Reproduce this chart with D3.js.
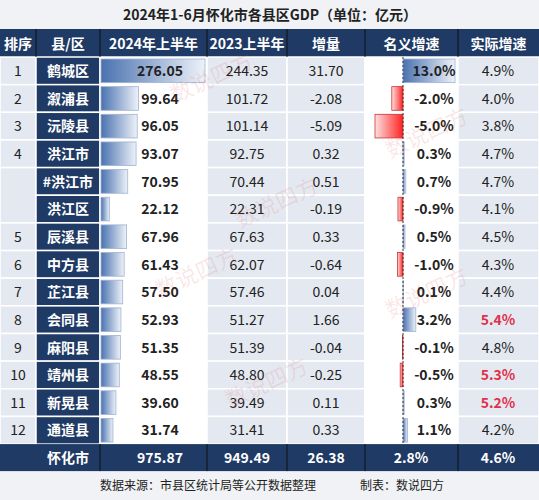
<!DOCTYPE html><html><head><meta charset="utf-8"><script src="https://cdn.jsdelivr.net/npm/d3@7"></script>
<style>body{margin:0;background:#fff}</style></head><body><svg id="c" width="539" height="500"></svg>
<script>
const ranks=["1","2","3","4","","","5","6","7","8","9","10","11","12"];
const names=["鹤城区","溆浦县","沅陵县","洪江市","#洪江市","洪江区","辰溪县","中方县","芷江县","会同县","麻阳县","靖州县","新晃县","通道县"];
const gdp2024=[276.05,99.64,96.05,93.07,70.95,22.12,67.96,61.43,57.50,52.93,51.35,48.55,39.60,31.74];
const gdp2023=[244.35,101.72,101.14,92.75,70.44,22.31,67.63,62.07,57.46,51.27,51.39,48.80,39.49,31.41];
const delta=["31.70","-2.08","-5.09","0.32","0.51","-0.19","0.33","-0.64","0.04","1.66","-0.04","-0.25","0.11","0.33"];
const nominal=[13.0,-2.0,-5.0,0.3,0.7,-0.9,0.5,-1.0,0.1,3.2,-0.1,-0.5,0.3,1.1];
const real=["4.9%","4.0%","3.8%","4.7%","4.7%","4.1%","4.5%","4.3%","4.4%","5.4%","4.8%","5.3%","5.2%","4.2%"];
const headers=["排序","县/区","2024年上半年","2023上半年","增量","名义增速","实际增速"];
const total=["怀化市","975.87","949.49","26.38","2.8%","4.6%"];
const svg=d3.select("#c");
const cols=[0,36,100,207,287,365,458,539];
const top0=57,rh=27.65,n=names.length;
const y=i=>top0+i*rh;
const navy="#1f3a64",cell="#e4e9f1";
svg.append("rect").attr("width",539).attr("height",500).attr("fill","#f0f2f5");
svg.append("text").attr("x",270).attr("y",20).attr("text-anchor","middle").attr("font-family","Noto Sans CJK SC").attr("font-weight","bold").attr("font-size",14).attr("fill","#222").text("2024年1-6月怀化市各县区GDP（单位：亿元）");
svg.append("rect").attr("y",29).attr("width",539).attr("height",28).attr("fill",navy);
headers.forEach((h,j)=>svg.append("text").attr("x",(cols[j]+cols[j+1])/2).attr("y",49).attr("text-anchor","middle").attr("font-family","Noto Sans CJK SC").attr("font-weight","bold").attr("font-size",14).attr("fill","#fff").text(h));
const xb=d3.scaleLinear().domain([0,276.05]).range([0,104]);
const xg=d3.scaleLinear().domain([-5,0,13]).range([375,403,455]);
const grad=svg.append("defs").append("linearGradient").attr("id","g");
grad.append("stop").attr("offset","0").attr("stop-color","#4a72b0");grad.append("stop").attr("offset","1").attr("stop-color","#eef2f9");
const gr=svg.select("defs").append("linearGradient").attr("id","r").attr("x1",1).attr("x2",0);
gr.append("stop").attr("offset","0").attr("stop-color","#f22");gr.append("stop").attr("offset","1").attr("stop-color","#fde0e0");
const F="Noto Sans CJK SC";
for(let i=0;i<n;i++){
  const yy=y(i);
  for(let j=0;j<7;j++){
    if(j===0&&ranks[i]===""&&i===5) continue;
    let h=rh; if(j===0&&i===4) h=rh*2;
    svg.append("rect").attr("x",cols[j]).attr("y",yy).attr("width",cols[j+1]-cols[j]).attr("height",h)
      .attr("fill",j===1?navy:(j===2||j===5?"#fff":cell)).attr("stroke","#fff").attr("stroke-width",1.5);
  }
  svg.append("rect").attr("x",101).attr("y",yy+2).attr("width",xb(gdp2024[i])).attr("height",rh-4).attr("fill","url(#g)").attr("stroke","#9fb3d3").attr("stroke-width",0.8);
  const v=nominal[i],x0=xg(0),x1=xg(v);
  svg.append("rect").attr("x",Math.min(x0,x1)).attr("y",yy+2).attr("width",Math.abs(x1-x0)).attr("height",rh-4).attr("fill",v<0?"url(#r)":"url(#g)").attr("stroke",v<0?"#c33":"#9fb3d3").attr("stroke-width",0.8);
  const t=(x,s,o={})=>svg.append("text").attr("x",x).attr("y",yy+19).attr("text-anchor","middle").attr("font-family",F).attr("font-size",14).attr("font-weight",o.b?"bold":"normal").attr("fill",o.c||"#222").text(s);
  if(ranks[i]) t(18,ranks[i]);
  t(68,names[i],{b:1,c:"#fff"});
  t(160,gdp2024[i].toFixed(2),{b:1});
  t(247,gdp2023[i].toFixed(2));
  t(326,delta[i]);
  t(434,v.toFixed(1)+"%",{b:1});
  const rv=parseFloat(real[i]);
  t(498,real[i],rv>=5?{b:1,c:"#e0304a"}:{});
}
svg.append("line").attr("x1",xg(0)).attr("x2",xg(0)).attr("y1",top0).attr("y2",y(n)).attr("stroke","#333").attr("stroke-dasharray","2,2");
const ty=y(n);
svg.append("rect").attr("y",ty).attr("width",539).attr("height",27).attr("fill",navy);
const tc=[68,160,247,326,411,498];
total.forEach((s,j)=>svg.append("text").attr("x",tc[j]).attr("y",ty+19).attr("text-anchor","middle").attr("font-family",F).attr("font-size",14).attr("font-weight","bold").attr("fill","#fff").text(s));
cols.slice(1,7).forEach(c=>svg.append("line").attr("x1",c).attr("x2",c).attr("y1",29).attr("y2",57).attr("stroke","#111"));
cols.slice(2,7).forEach(c=>svg.append("line").attr("x1",c).attr("x2",c).attr("y1",ty).attr("y2",ty+27).attr("stroke","#111"));
svg.append("text").attr("x",100).attr("y",490).attr("font-family",F).attr("font-size",12).attr("fill","#222").text("数据来源：市县区统计局等公开数据整理");
svg.append("text").attr("x",360).attr("y",490).attr("font-family",F).attr("font-size",12).attr("fill","#222").text("制表：数说四方");
[[215,85],[280,210],[430,140],[200,280],[430,300],[270,390]].forEach(([x,yy])=>svg.append("text").attr("x",x).attr("y",yy).attr("transform",`rotate(-25,${x},${yy})`).attr("text-anchor","middle").attr("font-family",F).attr("font-size",22).attr("fill","rgba(220,60,60,0.13)").text("数说四方"));
</script></body></html>
